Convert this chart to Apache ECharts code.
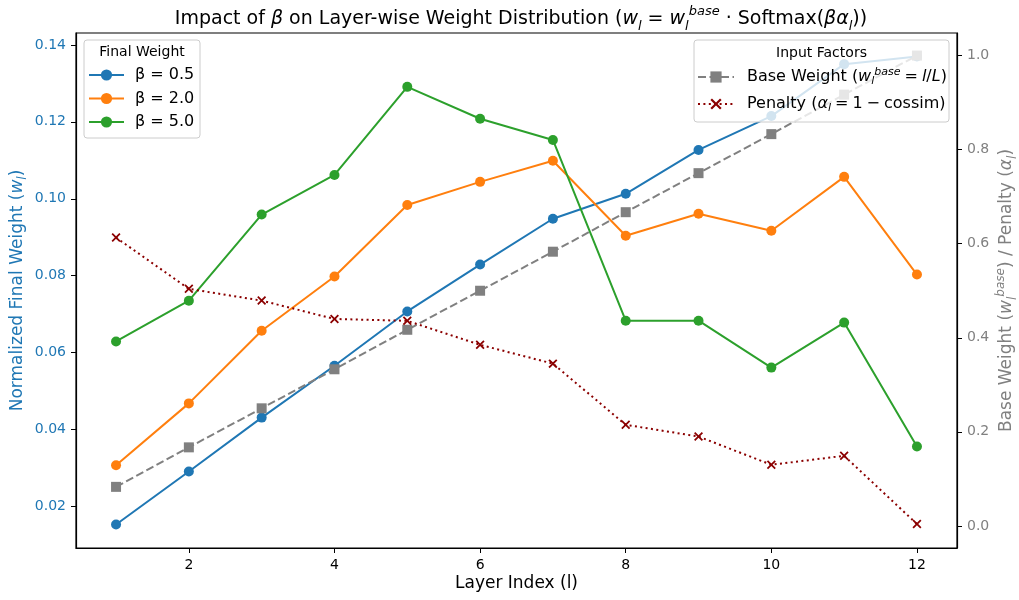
<!DOCTYPE html>
<html>
<head>
<meta charset="utf-8">
<script src="https://cdn.jsdelivr.net/npm/echarts@6.0.0/dist/echarts.min.js"></script>
<style>
html,body{margin:0;padding:0;background:#fff;}
#chart{width:1019px;height:600px;}
</style>
</head>
<body>
<div id="chart"></div>
<script>
// ---- data ----
const layers = [1, 2, 3, 4, 5, 6, 7, 8, 9, 10, 11, 12];
const beta05 = [0.0153, 0.0291, 0.0431, 0.0566, 0.0707, 0.0829, 0.0948, 0.1013, 0.1127, 0.1215, 0.1350, 0.1370];
const beta20 = [0.0307, 0.0468, 0.0657, 0.0798, 0.0984, 0.1044, 0.1099, 0.0904, 0.0961, 0.0917, 0.1057, 0.0803];
const beta50 = [0.0629, 0.0735, 0.0959, 0.1062, 0.1291, 0.1208, 0.1153, 0.0683, 0.0683, 0.0561, 0.0678, 0.0356];
const baseWeight = [0.083, 0.167, 0.250, 0.333, 0.417, 0.500, 0.583, 0.667, 0.750, 0.833, 0.917, 1.000];
const penalty = [0.613, 0.504, 0.479, 0.440, 0.436, 0.385, 0.345, 0.215, 0.190, 0.130, 0.149, 0.004];
const xTicks = [2, 4, 6, 8, 10, 12];
const leftTicks = [0.02, 0.04, 0.06, 0.08, 0.10, 0.12, 0.14];
const rightTicks = [0.0, 0.2, 0.4, 0.6, 0.8, 1.0];

const FONT = 'DejaVu Sans';
const pair = arr => layers.map((l, i) => [l, arr[i]]);

function richSet(size, sub, color, lh) {
  return {
    i: {fontStyle: 'italic', fontSize: size, fontFamily: FONT, color: color, lineHeight: lh},
    n: {fontSize: size, fontFamily: FONT, color: color, lineHeight: lh},
    sub: {fontStyle: 'italic', fontSize: sub, fontFamily: FONT, color: color, lineHeight: sub, verticalAlign: 'bottom'},
    sup: {fontStyle: 'italic', fontSize: sub, fontFamily: FONT, color: color, lineHeight: sub, verticalAlign: 'top'}
  };
}

const crossPath = 'path://M0,1.4 L1.4,0 L5,3.6 L8.6,0 L10,1.4 L6.4,5 L10,8.6 L8.6,10 L5,6.4 L1.4,10 L0,8.6 L3.6,5 Z';

const chart = echarts.init(document.getElementById('chart'), null, {renderer: 'canvas'});

const option = {
  animation: false,
  backgroundColor: '#fff',
  textStyle: {fontFamily: FONT},
  title: {
    text: '{n|Impact of }{i|β}{n| on Layer-wise Weight Distribution (}{i|w}{sub|l}{n| = }{i|w}{sub|l}{sup|base}{n| · Softmax(}{i|βα}{sub|l}{n|))}',
    left: 516,
    top: 0,
    textAlign: 'center',
    textStyle: {fontSize: 19, fontFamily: FONT, color: '#000', fontWeight: 'normal', lineHeight: 28, rich: richSet(19, 13, '#000', 28)}
  },
  grid: {left: 76, right: 62, top: 33, bottom: 52, outerBoundsMode: 'none', containLabel: false,
         show: true, borderColor: '#000', borderWidth: 1.2, backgroundColor: 'transparent'},
  xAxis: {
    type: 'value', min: 0.45, max: 12.55,
    axisLine: {show: true, onZero: false, lineStyle: {color: '#000', width: 1.2}},
    axisTick: {show: true, customValues: xTicks, length: 5, lineStyle: {color: '#000', width: 1}},
    axisLabel: {customValues: xTicks, margin: 10, fontSize: 14, color: '#000', fontFamily: FONT},
    splitLine: {show: false},
    name: 'Layer Index (l)', nameLocation: 'middle', nameGap: 27, nameMoveOverlap: false,
    nameTextStyle: {fontSize: 17, color: '#000', fontFamily: FONT}
  },
  yAxis: [
    {
      type: 'value', min: 0.0092, max: 0.1431, position: 'left',
      axisLine: {show: true, onZero: false, lineStyle: {color: '#000', width: 1.2}},
      axisTick: {show: true, customValues: leftTicks, length: 5, lineStyle: {color: '#000', width: 1}},
      axisLabel: {customValues: leftTicks, margin: 10, fontSize: 14, color: '#1f77b4', fontFamily: FONT, formatter: v => v.toFixed(2)},
      splitLine: {show: false},
      name: '{n|Normalized Final Weight (}{i|w}{sub|l}{n|)}', nameLocation: 'middle', nameGap: 47, nameRotate: 90, nameMoveOverlap: false,
      nameTextStyle: {fontSize: 17, color: '#1f77b4', fontFamily: FONT, lineHeight: 22, rich: richSet(17, 12, '#1f77b4', 22)}
    },
    {
      type: 'value', min: -0.047, max: 1.048, position: 'right',
      axisLine: {show: true, onZero: false, lineStyle: {color: '#000', width: 1.2}},
      axisTick: {show: true, customValues: rightTicks, length: 5, lineStyle: {color: '#000', width: 1}},
      axisLabel: {customValues: rightTicks, margin: 10, fontSize: 14, color: '#808080', fontFamily: FONT, formatter: v => v.toFixed(1)},
      splitLine: {show: false},
      name: '{n|Base Weight (}{i|w}{sub|l}{sup|base}{n|) / Penalty (}{i|α}{sub|l}{n|)}', nameLocation: 'middle', nameGap: 38, nameRotate: 90, nameMoveOverlap: false,
      nameTextStyle: {fontSize: 17, color: '#808080', fontFamily: FONT, lineHeight: 24, rich: richSet(17, 12, '#808080', 24)}
    }
  ],
  legend: [
    {
      data: ['β = 0.5', 'β = 2.0', 'β = 5.0'],
      orient: 'vertical', left: 88, top: 66, padding: 0,
      itemWidth: 35, itemHeight: 14, itemGap: 5.5, z: 200,
      selectedMode: false,
      textStyle: {fontSize: 16, lineHeight: 18, color: '#000', fontFamily: FONT, padding: [0, 0, 0, 6]}
    },
    {
      data: ['Base Weight', 'Penalty'],
      orient: 'vertical', left: 697, top: 67, padding: 0,
      itemWidth: 36, itemHeight: 14, itemGap: 7, z: 200,
      selectedMode: false,
      formatter: function (name) {
        if (name === 'Base Weight') return '{n|Base Weight (}{i|w}{sub|l}{sup|base}{n|\u2005=\u2005}{i|l}{n|/}{i|L}{n|)}';
        return '{n|Penalty (}{i|α}{sub|l}{n|\u2005=\u20051\u2005−\u2005cossim)}';
      },
      textStyle: {fontSize: 16, lineHeight: 20, color: '#000', fontFamily: FONT, padding: [0, 0, 0, 8], rich: richSet(16, 11, '#000', 20)}
    }
  ],
  graphic: [
    {type: 'rect', z: 100, shape: {x: 84, y: 40, width: 116, height: 98, r: 3},
     style: {fill: 'rgba(255,255,255,0.8)', stroke: '#cccccc', lineWidth: 1}},
    {type: 'text', z: 101, x: 142, y: 52,
     style: {text: 'Final Weight', fontSize: 14, fontFamily: FONT, fill: '#000', align: 'center', verticalAlign: 'middle', textAlign: 'center', textVerticalAlign: 'middle'}},
    {type: 'rect', z: 100, shape: {x: 694, y: 40, width: 255, height: 82, r: 3},
     style: {fill: 'rgba(255,255,255,0.8)', stroke: '#cccccc', lineWidth: 1}},
    {type: 'text', z: 101, x: 821.5, y: 53,
     style: {text: 'Input Factors', fontSize: 14, fontFamily: FONT, fill: '#000', align: 'center', verticalAlign: 'middle', textAlign: 'center', textVerticalAlign: 'middle'}}
  ],
  series: [
    {name: 'β = 0.5', type: 'line', yAxisIndex: 0, data: pair(beta05), symbol: 'circle', symbolSize: 10,
     lineStyle: {width: 2, color: '#1f77b4'}, itemStyle: {color: '#1f77b4'}},
    {name: 'β = 2.0', type: 'line', yAxisIndex: 0, data: pair(beta20), symbol: 'circle', symbolSize: 10,
     lineStyle: {width: 2, color: '#ff7f0e'}, itemStyle: {color: '#ff7f0e'}},
    {name: 'β = 5.0', type: 'line', yAxisIndex: 0, data: pair(beta50), symbol: 'circle', symbolSize: 10,
     lineStyle: {width: 2, color: '#2ca02c'}, itemStyle: {color: '#2ca02c'}},
    {name: 'Base Weight', type: 'line', yAxisIndex: 1, data: pair(baseWeight), symbol: 'rect', symbolSize: 10,
     lineStyle: {width: 2, color: '#808080', type: [8, 3.5]}, itemStyle: {color: '#808080'}},
    {name: 'Penalty', type: 'line', yAxisIndex: 1, data: pair(penalty), symbol: crossPath, symbolSize: 9,
     lineStyle: {width: 2, color: '#8b0000', type: [2, 3.4]}, itemStyle: {color: '#8b0000'}}
  ]
};

chart.setOption(option);
</script>
</body>
</html>
